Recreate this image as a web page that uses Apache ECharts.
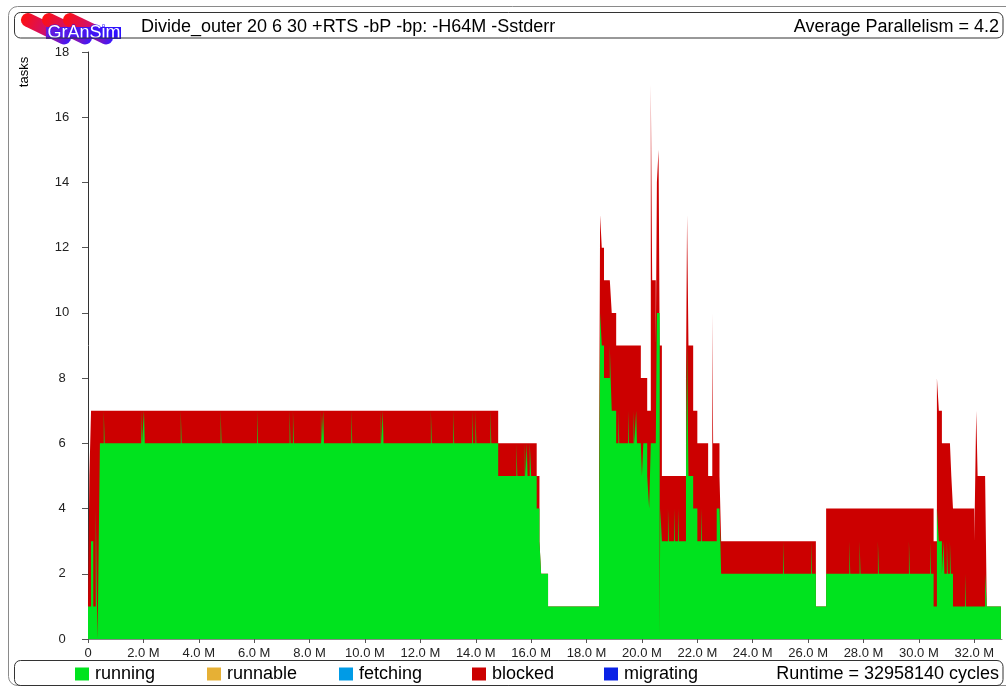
<!DOCTYPE html>
<html>
<head>
<meta charset="utf-8">
<script src="https://cdn.jsdelivr.net/npm/echarts@6/dist/echarts.min.js"></script>
<style>
html,body{margin:0;padding:0;background:#fff;}
#c{width:1006px;height:687px;}
</style>
</head>
<body>
<div id="c"></div>
<script>
// time of each step (in millions of cycles), value holds until the next time
const timeM = [
  0.00, 0.05, 0.11, 0.19, 0.28, 0.34, 0.36, 0.43,
  0.57, 0.60, 1.92, 1.95, 2.02, 2.05, 3.35, 3.38, 4.79, 4.82, 6.11, 6.14,
  7.28, 7.31, 7.40, 7.43, 8.41, 8.44, 8.49, 8.52, 9.51, 9.54,
  10.57, 10.60, 10.64, 10.67, 12.38, 12.41, 13.19, 13.22, 13.87, 13.90,
  13.99, 14.02, 14.53, 14.56,
  14.81, 15.47, 15.50, 15.77, 15.80, 15.84, 15.87, 15.95, 16.00,
  16.20, 16.30, 16.36, 16.61,
  18.45, 18.49, 18.55, 18.63, 18.84, 18.87, 18.91, 19.07,
  19.15, 19.18, 19.50, 19.53, 19.70, 19.73, 19.79, 19.82,
  19.96, 20.00, 20.05, 20.19, 20.26, 20.32, 20.37, 20.50, 20.54, 20.60,
  20.64, 20.66, 20.72, 20.94, 20.97, 21.16, 21.19, 21.31, 21.34,
  21.59, 21.63, 21.68, 21.85, 22.00, 22.14, 22.17, 22.39, 22.54, 22.57,
  22.70, 22.80, 22.86, 25.10, 25.13, 26.11, 26.14,
  26.28, 26.65, 27.49, 27.52, 27.86, 27.89, 28.52, 28.55, 29.64, 29.67,
  30.41, 30.44, 30.53, 30.65, 30.72, 30.83, 30.89, 30.92, 31.01, 31.04,
  31.12, 31.15, 31.17, 31.23, 31.67, 31.70, 32.00, 32.07, 32.12, 32.39,
  32.45, 32.96
];
const running = [
  1, 1, 3, 1, 4, 0, 1, 6,
  7, 6, 7, 6, 7, 6, 7, 6, 7, 6, 7, 6,
  7, 6, 7, 6, 7, 6, 7, 6, 7, 6,
  7, 6, 7, 6, 7, 6, 7, 6, 7, 6,
  7, 6, 7, 6,
  5, 6, 5, 6, 5, 6, 5, 6, 5,
  4, 3, 2, 1,
  3, 10, 9, 8, 9, 8, 7, 6,
  7, 6, 7, 6, 7, 6, 7, 6,
  6, 5, 6, 5, 4, 6, 6, 6, 10, 10,
  0, 4, 3, 4, 3, 4, 3, 4, 3,
  5, 9, 5, 4, 3, 4, 3, 3, 3, 3,
  4, 4, 2, 3, 2, 3, 2,
  1, 2, 3, 2, 3, 2, 3, 2, 3, 2,
  3, 2, 1, 4, 3, 2, 3, 2, 3, 2,
  3, 2, 2, 1, 2, 1, 1, 1, 1, 2,
  1, 1
];
const blocked = [
  0, 4, 4, 6, 3, 7, 6, 1,
  0, 1, 0, 1, 0, 1, 0, 1, 0, 1, 0, 1,
  0, 1, 0, 1, 0, 1, 0, 1, 0, 1,
  0, 1, 0, 1, 0, 1, 0, 1, 0, 1,
  0, 1, 0, 1,
  1, 0, 1, 0, 1, 0, 1, 0, 1,
  1, 0, 0, 0,
  2, 3, 3, 3, 2, 3, 3, 3,
  2, 3, 2, 3, 2, 3, 2, 3,
  2, 3, 2, 2, 3, 11, 5, 3, 4, 5,
  9, 5, 2, 1, 2, 1, 2, 1, 2,
  3, 4, 4, 3, 3, 2, 3, 2, 7, 3,
  2, 1, 1, 0, 1, 0, 1,
  0, 2, 1, 2, 1, 2, 1, 2, 1, 2,
  1, 2, 2, 4, 4, 4, 3, 4, 3, 4,
  3, 4, 3, 3, 2, 3, 2, 6, 4, 3,
  0, 0
];
const xTickValues = [0, 2, 4, 6, 8, 10, 12, 14, 16, 18, 20, 22, 24, 26, 28, 30, 32];
const yTickValues = [0, 2, 4, 6, 8, 10, 12, 14, 16, 18];
const legendNames = ['running', 'runnable', 'fetching', 'blocked', 'migrating'];
const legendColors = ['#00e31e', '#e6b035', '#009be6', '#cc0000', '#0a22e6'];
const titleText = 'Divide_outer 20 6 30 +RTS -bP -bp: -H64M -Sstderr';
const avgText = 'Average Parallelism = 4.2';
const runtimeText = 'Runtime = 32958140 cycles';

const FONT = '"Liberation Sans", Arial, Helvetica, sans-serif';
const chart = echarts.init(document.getElementById('c'), null, {renderer: 'canvas'});

// expand the step profile into explicit vertical/horizontal corners
function toSteps(vals) {
  const out = [];
  for (let i = 0; i < timeM.length; i++) {
    if (i > 0) out.push([timeM[i], vals[i - 1]]);
    out.push([timeM[i], vals[i]]);
  }
  return out;
}
const totals = running.map((r, i) => r + blocked[i]);
const runData = toSteps(running);
const totalData = toSteps(totals);

const legendLeft = [75, 207, 339, 472, 604];
const legends = legendNames.map((n, i) => ({
  data: [{name: n, itemStyle: {color: legendColors[i], borderWidth: 0, opacity: 1}}],
  left: legendLeft[i], top: 665, padding: 0,
  icon: 'rect', itemWidth: 14, itemHeight: 13,
  selectedMode: false,
  textStyle: {fontSize: 18, color: '#000', fontFamily: FONT, padding: [0, 0, 0, 1]}
}));

const trailFill = {type: 'linear', x: 0, y: 0, x2: 1, y2: 0,
  colorStops: [{offset: 0, color: '#ff1010'}, {offset: 0.5, color: '#d0106a'}, {offset: 1, color: '#3a18ff'}]};

const option = {
  animation: false,
  backgroundColor: '#fff',
  grid: {left: 88, right: 4, top: 52, bottom: 48, containLabel: false},
  legend: legends,
  xAxis: {
    type: 'value', min: 0, max: 33,
    axisLine: {show: true, lineStyle: {color: '#888', width: 1}},
    axisTick: {show: true, length: 4, customValues: xTickValues, lineStyle: {color: '#555'}},
    axisLabel: {
      customValues: xTickValues, fontSize: 13, margin: 8, color: '#222', fontFamily: FONT,
      formatter: v => v === 0 ? '0' : v.toFixed(1) + ' M'
    },
    splitLine: {show: false}
  },
  yAxis: {
    type: 'value', min: 0, max: 18, interval: 2,
    axisLine: {show: true, lineStyle: {color: '#333', width: 1}},
    axisTick: {show: true, length: 6, customValues: yTickValues, lineStyle: {color: '#555'}},
    axisLabel: {customValues: yTickValues, fontSize: 13, margin: 26, align: 'center', color: '#222',
      fontFamily: FONT, padding: [0, 0, 6, 0]},
    splitLine: {show: false}
  },
  series: [
    {name: 'blocked', type: 'line', data: totalData, symbol: 'none', showSymbol: false,
      silent: true, z: 2, lineStyle: {width: 0, color: legendColors[3]}, itemStyle: {color: legendColors[3]},
      areaStyle: {color: legendColors[3], opacity: 1}},
    {name: 'running', type: 'line', data: runData, symbol: 'none', showSymbol: false,
      silent: true, z: 3, lineStyle: {width: 0, color: legendColors[0]}, itemStyle: {color: legendColors[0]},
      areaStyle: {color: legendColors[0], opacity: 1}},
    {name: 'runnable', type: 'line', data: [], itemStyle: {color: legendColors[1]}, lineStyle: {color: legendColors[1]}},
    {name: 'fetching', type: 'line', data: [], itemStyle: {color: legendColors[2]}, lineStyle: {color: legendColors[2]}},
    {name: 'migrating', type: 'line', data: [], itemStyle: {color: legendColors[4]}, lineStyle: {color: legendColors[4]}}
  ],
  graphic: [
    {type: 'rect', silent: true, shape: {x: 8.5, y: 6.5, width: 1012, height: 679, r: 9},
      style: {fill: 'none', stroke: '#8a8a8a', lineWidth: 1}, z: 0},
    // logo
    {type: 'rect', silent: true, x: 28, y: 20, rotation: -0.45, shape: {x: -7, y: -7, width: 54, height: 14, r: 7}, style: {fill: trailFill}},
    {type: 'rect', silent: true, x: 49, y: 20, rotation: -0.45, shape: {x: -7, y: -7, width: 54, height: 14, r: 7}, style: {fill: trailFill}},
    {type: 'rect', silent: true, x: 70, y: 20, rotation: -0.45, shape: {x: -7, y: -7, width: 54, height: 14, r: 7}, style: {fill: trailFill}},
    {type: 'rect', silent: true, shape: {x: 46, y: 27, width: 75, height: 12},
      style: {fill: {type: 'linear', x: 0, y: 0, x2: 1, y2: 0, colorStops: [{offset: 0, color: '#6a1ad8'}, {offset: 1, color: '#2a10ff'}]}}},
    {type: 'text', silent: true, x: 84, y: 33, style: {text: 'GrAnSim', fill: '#fff', fontSize: 18, fontFamily: FONT,
      align: 'center', verticalAlign: 'middle', stroke: '#2a10ff', lineWidth: 1}},
    {type: 'rect', silent: true, shape: {x: 14.5, y: 12.5, width: 988.5, height: 25.5, r: 6},
      style: {fill: 'none', stroke: '#333', lineWidth: 1}},
    {type: 'rect', silent: true, shape: {x: 14.5, y: 660.5, width: 988.5, height: 25, r: 6},
      style: {fill: 'none', stroke: '#333', lineWidth: 1}},
    // header texts
    {type: 'text', silent: true, x: 141, y: 27.5, style: {text: titleText, fill: '#000', fontSize: 18, fontFamily: FONT,
      align: 'left', verticalAlign: 'middle'}},
    {type: 'text', silent: true, x: 999, y: 27.5, style: {text: avgText, fill: '#000', fontSize: 18, fontFamily: FONT,
      align: 'right', verticalAlign: 'middle'}},
    {type: 'text', silent: true, x: 999, y: 674, style: {text: runtimeText, fill: '#000', fontSize: 18, fontFamily: FONT,
      align: 'right', verticalAlign: 'middle'}},
    {type: 'text', silent: true, x: 24, y: 72, rotation: Math.PI / 2, style: {text: 'tasks', fill: '#000', fontSize: 13,
      fontFamily: FONT, align: 'center', verticalAlign: 'middle'}}
  ]
};
chart.setOption(option);
</script>
</body>
</html>
